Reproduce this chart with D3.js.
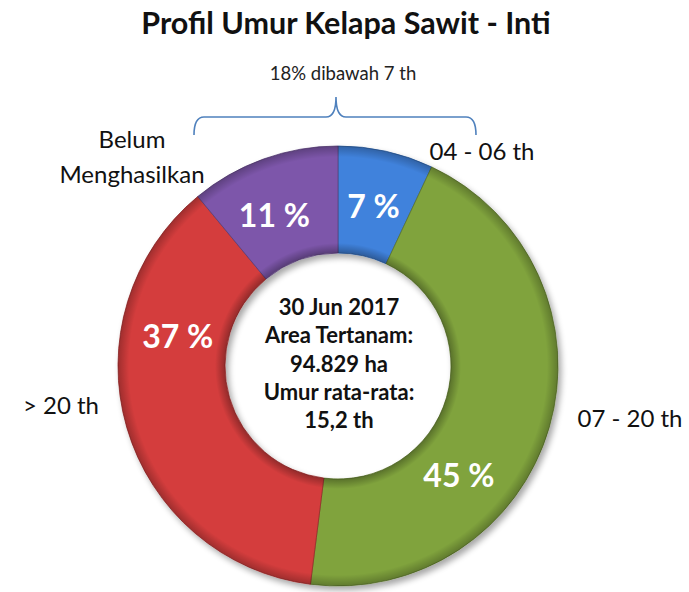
<!DOCTYPE html>
<html>
<head>
<meta charset="utf-8">
<script src="https://cdn.jsdelivr.net/npm/d3@7"></script>
<style>
  body { margin: 0; background: #fff; }
  text { font-family: Lato, "Open Sans", sans-serif; }
</style>
</head>
<body>
<script>
// data
var categories = ["04 - 06 th", "07 - 20 th", "> 20 th", "Belum Menghasilkan"];
var values = [7, 45, 37, 11];
var colors = ["#3f82dc", "#80a33e", "#d43d3d", "#7d57aa"];
var centerLines = ["30 Jun 2017", "Area Tertanam:", "94.829 ha", "Umur rata-rata:", "15,2 th"];
var titleText = "Profil Umur Kelapa Sawit - Inti";
var braceText = "18% dibawah 7 th";

// layout
var svgWidth = 689;
var svgHeight = 592;
var cx = 338, cy = 366;
var outerR = 220, innerR = 113;
var labelFrac = [0.5, 0.66, 0.7, 0.42];   // where along each slice the % label sits
var labelR = 163;
var outsideLabels = [
  { x: 482, y: 160, lines: ["04 - 06 th"] },
  { x: 630, y: 427, lines: ["07 - 20 th"] },
  { x: 61, y: 414, lines: ["> 20 th"] },
  { x: 132, y: 148, lines: ["Belum", "Menghasilkan"] }
];

var svg = d3.select("body")
  .append("svg")
  .attr("width", svgWidth)
  .attr("height", svgHeight);

var defs = svg.append("defs");
var shadow = defs.append("filter")
  .attr("id", "shadow")
  .attr("x", "-10%").attr("y", "-10%")
  .attr("width", "130%").attr("height", "130%");
shadow.append("feGaussianBlur").attr("in", "SourceAlpha").attr("stdDeviation", 3);
shadow.append("feOffset").attr("dx", 3).attr("dy", 4).attr("result", "blur");
shadow.append("feComponentTransfer").append("feFuncA").attr("type", "linear").attr("slope", 0.35);
var merge = shadow.append("feMerge");
merge.append("feMergeNode");
merge.append("feMergeNode").attr("in", "SourceGraphic");

// soft bevel: dark at both rims, clear in the middle
var bevel = defs.append("radialGradient")
  .attr("id", "bevel")
  .attr("gradientUnits", "userSpaceOnUse")
  .attr("cx", 0).attr("cy", 0).attr("r", outerR);
[[innerR / outerR, 0.3], [(innerR + 10) / outerR, 0], [0.95, 0], [1, 0.25]].forEach(function(s) {
  bevel.append("stop").attr("offset", s[0]).attr("stop-color", "#000").attr("stop-opacity", s[1]);
});

// title
svg.append("text")
  .attr("x", 346)
  .attr("y", 34)
  .attr("text-anchor", "middle")
  .style("font-size", "30.5px")
  .style("font-weight", "bold")
  .style("fill", "#111")
  .text(titleText);

svg.append("text")
  .attr("x", 343)
  .attr("y", 80)
  .attr("text-anchor", "middle")
  .style("font-size", "18.5px")
  .style("fill", "#222")
  .text(braceText);

// curly brace over the young palms
svg.append("path")
  .attr("d", "M194,135 Q194,117 204,117 L326,117 Q336,117 336,97 Q336,117 346,117 L466,117 Q476,117 476,135")
  .attr("fill", "none")
  .attr("stroke", "#4f81bd")
  .attr("stroke-width", 1.6);

var pie = d3.pie().sort(null).value(d => d);
var arcs = pie(values);
var arc = d3.arc().innerRadius(innerR).outerRadius(outerR);

var chartGroup = svg.append("g")
  .attr("transform", `translate(${cx}, ${cy})`);

var ring = chartGroup.append("g").attr("filter", "url(#shadow)");
ring.selectAll("path")
  .data(arcs)
  .enter()
  .append("path")
  .attr("d", arc)
  .attr("fill", (d, i) => colors[i])
  .attr("stroke", (d, i) => d3.color(colors[i]).darker(0.9))
  .attr("stroke-width", 0.8);

chartGroup.append("g").selectAll("path")
  .data(arcs)
  .enter()
  .append("path")
  .attr("d", arc)
  .attr("fill", "url(#bevel)");

// percentage labels
chartGroup.selectAll(".pct")
  .data(arcs)
  .enter()
  .append("text")
  .attr("class", "pct")
  .attr("x", (d, i) => labelR * Math.sin(d.startAngle + labelFrac[i] * (d.endAngle - d.startAngle)))
  .attr("y", (d, i) => -labelR * Math.cos(d.startAngle + labelFrac[i] * (d.endAngle - d.startAngle)))
  .attr("dy", "0.36em")
  .attr("text-anchor", "middle")
  .style("font-size", "32px")
  .style("font-weight", "bold")
  .style("fill", "#fff")
  .text(d => d.value + " %");

// center text
chartGroup.selectAll(".center")
  .data(centerLines)
  .enter()
  .append("text")
  .attr("class", "center")
  .attr("x", 1)
  .attr("y", (d, i) => -51 + i * 28.3)
  .attr("text-anchor", "middle")
  .style("font-size", "22px")
  .style("font-weight", "bold")
  .style("fill", "#111")
  .text(d => d);

// category labels outside
outsideLabels.forEach(function(l, i) {
  var t = svg.append("text")
    .attr("x", l.x)
    .attr("y", l.y)
    .attr("text-anchor", "middle")
    .style("font-size", "24px")
    .style("fill", "#111");
  t.selectAll("tspan")
    .data(l.lines)
    .enter()
    .append("tspan")
    .attr("x", l.x)
    .attr("dy", (d, j) => j === 0 ? 0 : 35)
    .text(d => d);
});
</script>
</body>
</html>
